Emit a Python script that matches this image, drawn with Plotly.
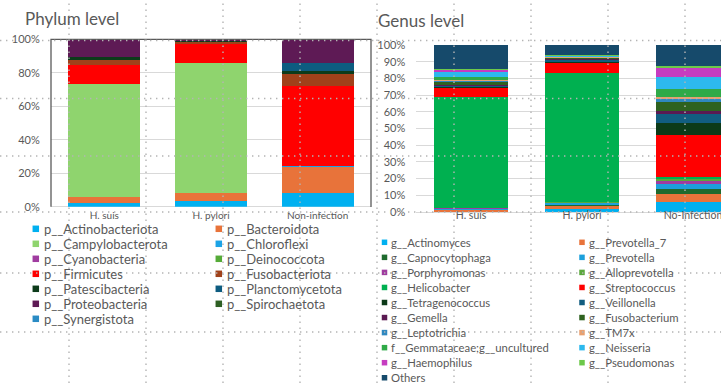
import plotly.graph_objects as go

W, H = 721, 383

# ---------------- Phylum level ----------------
phylum_groups = ["H. suis", "H. pylori", "Non-infection"]
phylum_names = [
    "p__Actinobacteriota", "p__Bacteroidota", "p__Campylobacterota", "p__Chloroflexi",
    "p__Cyanobacteria", "p__Deinococcota", "p__Firmicutes", "p__Fusobacteriota",
    "p__Patescibacteria", "p__Planctomycetota", "p__Proteobacteria", "p__Spirochaetota",
    "p__Synergistota",
]
phylum_colors = [
    "#00b0f0", "#e8733a", "#8fd46e", "#1ca3e6",
    "#a03ca0", "#55ab38", "#ff0000", "#a0411a",
    "#0c3b1a", "#0d5c80", "#5e1a55", "#2d5f22",
    "#2a8bc4",
]
# relative abundance (%) per group: H. suis, H. pylori, Non-infection
actinobacteriota = [2.2, 3.4, 8.0]
bacteroidota = [3.6, 4.8, 15.9]
campylobacterota = [67.5, 77.8, 0.2]
chloroflexi = [0.1, 0.0, 0.1]
cyanobacteria = [0.0, 0.0, 0.1]
deinococcota = [0.1, 0.0, 0.1]
firmicutes = [11.2, 11.6, 47.5]
fusobacteriota = [2.9, 0.9, 7.6]
patescibacteria = [1.7, 0.5, 1.6]
planctomycetota = [0.0, 0.0, 4.6]
proteobacteria = [10.7, 1.0, 14.2]
spirochaetota = [0.0, 0.0, 0.1]
synergistota = [0.0, 0.0, 0.0]

phylum_values = [
    actinobacteriota, bacteroidota, campylobacterota, chloroflexi,
    cyanobacteria, deinococcota, firmicutes, fusobacteriota,
    patescibacteria, planctomycetota, proteobacteria, spirochaetota,
    synergistota,
]
phylum_ticks = [0, 20, 40, 60, 80, 100]
phylum_tick_labels = ["0%", "20%", "40%", "60%", "80%", "100%"]

# ---------------- Genus level ----------------
genus_groups = ["H. suis", "H. pylori", "No-Infection"]
genus_names = [
    "g__Actinomyces", "g__Prevotella_7", "g__Capnocytophaga", "g__Prevotella",
    "g__Porphyromonas", "g__Alloprevotella", "g__Helicobacter", "g__Streptococcus",
    "g__Tetragenococcus", "g__Veillonella", "g__Gemella", "g__Fusobacterium",
    "g__Leptotrichia", "g__TM7x", "f__Gemmataceae;g__uncultured", "g__Neisseria",
    "g__Haemophilus", "g__Pseudomonas", "Others",
]
genus_colors = [
    "#00b0f0", "#e8733a", "#1e6a2e", "#1ca0dc",
    "#a03ca0", "#5aa83c", "#00b050", "#ff0000",
    "#0c3a18", "#115d80", "#5a1a52", "#2e6220",
    "#2f88c0", "#e8a070", "#2faa48", "#2db9ee",
    "#c63cc0", "#6cc84a", "#164a6b",
]
actinomyces = [0.3, 1.5, 5.8]
prevotella_7 = [1.0, 2.5, 5.0]
capnocytophaga = [0.4, 0.4, 2.8]
prevotella = [0.5, 1.0, 3.2]
porphyromonas = [0.2, 0.3, 1.9]
alloprevotella = [0.2, 0.3, 1.1]
helicobacter = [66.4, 77.5, 1.0]
streptococcus = [5.4, 6.3, 25.3]
tetragenococcus = [0.4, 0.2, 7.4]
veillonella = [1.2, 1.2, 5.2]
gemella = [0.3, 0.6, 2.0]
fusobacterium = [1.8, 0.6, 5.2]
leptotrichia = [0.6, 0.3, 2.0]
tm7x = [0.8, 0.2, 1.2]
gemmataceae = [1.1, 0.3, 4.6]
neisseria = [3.2, 0.5, 7.3]
haemophilus = [1.8, 0.2, 5.6]
pseudomonas = [0.3, 0.3, 1.0]
others = [14.1, 5.8, 12.4]

genus_values = [
    actinomyces, prevotella_7, capnocytophaga, prevotella,
    porphyromonas, alloprevotella, helicobacter, streptococcus,
    tetragenococcus, veillonella, gemella, fusobacterium,
    leptotrichia, tm7x, gemmataceae, neisseria,
    haemophilus, pseudomonas, others,
]
genus_ticks = list(range(0, 101, 10))
genus_tick_labels = [f"{v}%" for v in genus_ticks]


def px(x):
    return x / W


def py(y):
    return 1 - y / H


TEXT = "#595959"
FONT = "Lato"

fig = go.Figure()

for name, vals, col in zip(phylum_names, phylum_values, phylum_colors):
    fig.add_trace(go.Bar(
        x=phylum_groups, y=vals, name=name, width=0.675,
        marker=dict(color=col, line=dict(width=0)),
        xaxis="x", yaxis="y", showlegend=False,
    ))

for name, vals, col in zip(genus_names, genus_values, genus_colors):
    fig.add_trace(go.Bar(
        x=genus_groups, y=vals, name=name, width=0.662,
        marker=dict(color=col, line=dict(width=0)),
        xaxis="x2", yaxis="y2", showlegend=False,
    ))

shapes = []
annotations = []


def add_legend(names, colors, x_marker, x_text, y0, dy, size, font_size):
    for i, (n, c) in enumerate(zip(names, colors)):
        col, row = i % 2, i // 2
        ym = y0 + row * dy
        xm = x_marker[col]
        shapes.append(dict(
            type="rect", xref="paper", yref="paper",
            x0=px(xm - size / 2), x1=px(xm + size / 2),
            y0=py(ym + size / 2), y1=py(ym - size / 2),
            fillcolor=c, line=dict(width=0), layer="above",
        ))
        annotations.append(dict(
            text=n, x=px(x_text[col]), y=py(ym), xref="paper", yref="paper",
            xanchor="left", yanchor="middle", showarrow=False, borderpad=0,
            font=dict(family=FONT, size=font_size, color=TEXT),
        ))


add_legend(phylum_names, phylum_colors, (35.8, 218.8), (42.5, 226), 228.8, 15.0, 6.5, 13)
add_legend(genus_names, genus_colors, (384.5, 582), (390, 587.5), 242.3, 15.05, 5.5, 11.3)

# panel titles
annotations.append(dict(text="Phylum level", x=px(23), y=py(18), xref="paper", yref="paper",
                        xanchor="left", yanchor="middle", showarrow=False,
                        font=dict(family=FONT, size=17, color=TEXT)))
annotations.append(dict(text="Genus level", x=px(376), y=py(20.5), xref="paper", yref="paper",
                        xanchor="left", yanchor="middle", showarrow=False,
                        font=dict(family=FONT, size=17, color=TEXT)))

# frame around the phylum panel (left, top, right)
shapes.append(dict(
    type="path", xref="paper", yref="paper",
    path=f"M {px(51)},{py(206.7)} L {px(51)},{py(39.3)} L {px(371)},{py(39.3)} L {px(371)},{py(207)}",
    line=dict(color="#5a5a5a", width=1.3), layer="above",
))

# dotted layout guides
DOT = dict(color="#b4b4b4", width=1.4, dash="1.4px,4.6px")
for gx in [69, 146, 223, 300, 377, 454, 531, 608, 685]:
    shapes.append(dict(type="line", xref="paper", yref="paper", x0=px(gx), x1=px(gx),
                       y0=0, y1=1, line=DOT, layer="above"))
for gy in [40.5, 98.5, 156, 212, 273, 332]:
    shapes.append(dict(type="line", xref="paper", yref="paper", x0=0, x1=1,
                       y0=py(gy), y1=py(gy), line=DOT, layer="above"))

axis_common = dict(showline=False, fixedrange=True)

fig.update_layout(
    template="none",
    width=W, height=H,
    margin=dict(l=0, r=0, t=0, b=0),
    paper_bgcolor="white", plot_bgcolor="white",
    barmode="stack",
    font=dict(family=FONT, color=TEXT),
    xaxis=dict(domain=[px(51), px(371)], anchor="free", position=py(207.5),
               showgrid=False, zeroline=False, ticks="",
               tickfont=dict(size=10, color=TEXT), **axis_common),
    yaxis=dict(domain=[py(206.7), py(39.3)], anchor="x", range=[0, 100],
               tickmode="array", tickvals=phylum_ticks, ticktext=phylum_tick_labels,
               showgrid=True, gridcolor="#d9d9d9", gridwidth=1,
               zeroline=True, zerolinecolor="#d9d9d9", zerolinewidth=1,
               ticks="outside", ticklen=8, tickcolor="rgba(0,0,0,0)",
               tickfont=dict(size=11, color=TEXT), **axis_common),
    xaxis2=dict(domain=[px(415.5), 1], anchor="free", position=py(207.5),
                range=[-0.5, 2.252], type="category",
                showgrid=False, zeroline=False, ticks="",
                tickfont=dict(size=10.5, color=TEXT), **axis_common),
    yaxis2=dict(domain=[py(212), py(45)], anchor="x2", range=[0, 100],
                tickmode="array", tickvals=genus_ticks, ticktext=genus_tick_labels,
                showgrid=True, gridcolor="#d9d9d9", gridwidth=1,
                zeroline=True, zerolinecolor="#d9d9d9", zerolinewidth=1,
                ticks="outside", ticklen=7, tickcolor="rgba(0,0,0,0)",
                tickfont=dict(size=11, color=TEXT), **axis_common),
    shapes=shapes,
    annotations=annotations,
)

fig.write_html("out.html")
